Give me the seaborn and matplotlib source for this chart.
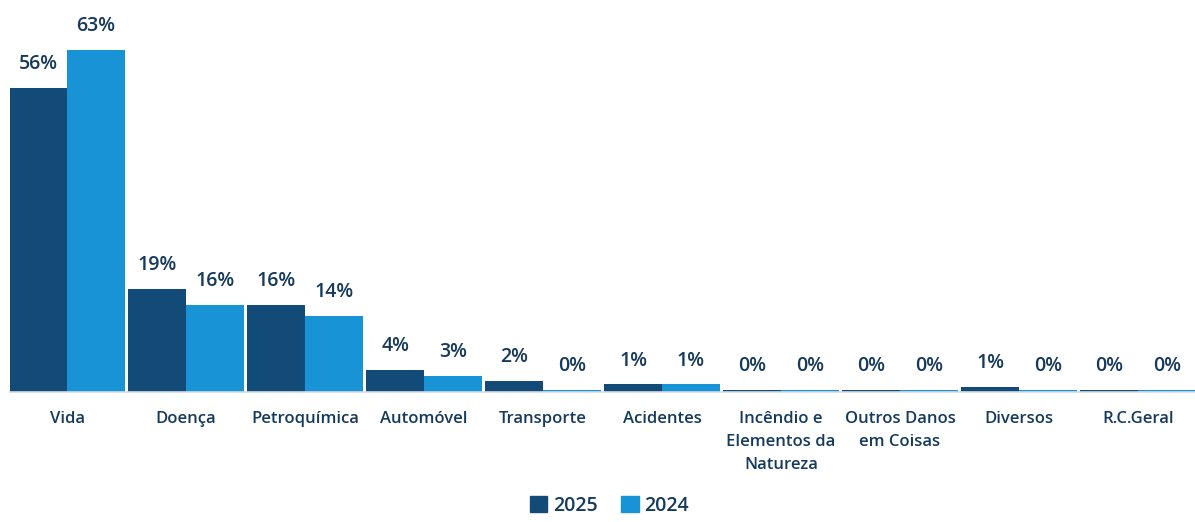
import pandas as pd
import numpy as np
import seaborn as sns
import matplotlib.pyplot as plt
from matplotlib.patches import Patch

# Data (share of premiums, %)
categories = ["Vida", "Doença", "Petroquímica", "Automóvel", "Transporte",
              "Acidentes", "Incêndio e\nElementos da\nNatureza",
              "Outros Danos\nem Coisas", "Diversos", "R.C.Geral"]
values_2025 = [56, 19, 16, 4, 2, 1.4, 0.4, 0.3, 1.0, 0.3]
values_2024 = [63, 16, 14, 3, 0.4, 1.4, 0.4, 0.4, 0.4, 0.3]
years = ["2025", "2024"]

df = pd.DataFrame({
    "categoria": categories * 2,
    "ano": [years[0]] * len(categories) + [years[1]] * len(categories),
    "valor": values_2025 + values_2024,
})

sns.set_theme(style="white")
plt.rcParams["font.family"] = ["Open Sans", "DejaVu Sans"]

navy = "#134b78"
blue = "#1793d6"
text_col = "#163a5c"

fig = plt.figure(figsize=(11.95, 5.22), dpi=100)
ax = fig.add_axes([10 / 1195, 130 / 522, 1185 / 1195, 392 / 522])

sns.barplot(data=df, x="categoria", y="valor", hue="ano", order=categories,
            hue_order=years, palette=[navy, blue], width=0.97, gap=0,
            saturation=1, linewidth=0, legend=False, ax=ax)

ax.set_xlim(-0.48, 9.48)
ax.set_ylim(0, 72.2)
ax.set_xlabel("")
ax.set_ylabel("")
ax.set_yticks([])
for s in ["top", "right", "left"]:
    ax.spines[s].set_visible(False)
ax.spines["bottom"].set_color("#d5dbe3")
ax.spines["bottom"].set_linewidth(1.2)

ax.tick_params(axis="x", length=0, pad=14)
for lbl in ax.get_xticklabels():
    lbl.set_fontsize(12)
    lbl.set_fontweight("semibold")
    lbl.set_color(text_col)
    lbl.set_linespacing(1.55)
    lbl.set_verticalalignment("top")

for cont, vals in zip(ax.containers, [values_2025, values_2024]):
    ax.bar_label(cont, labels=[f"{round(v)}%" for v in vals], padding=10,
                 fontsize=14, fontweight="semibold", color=text_col)

handles = [Patch(color=navy, label="2025"), Patch(color=blue, label="2024")]
fig.legend(handles=handles, loc="lower center", bbox_to_anchor=(0.51, -0.022),
           ncol=2, frameon=False, handlelength=0.9, handleheight=0.9,
           handletextpad=0.3, columnspacing=1.2,
           prop={"size": 14, "weight": "semibold"}, labelcolor=text_col)

plt.savefig("out.png", dpi=100)
